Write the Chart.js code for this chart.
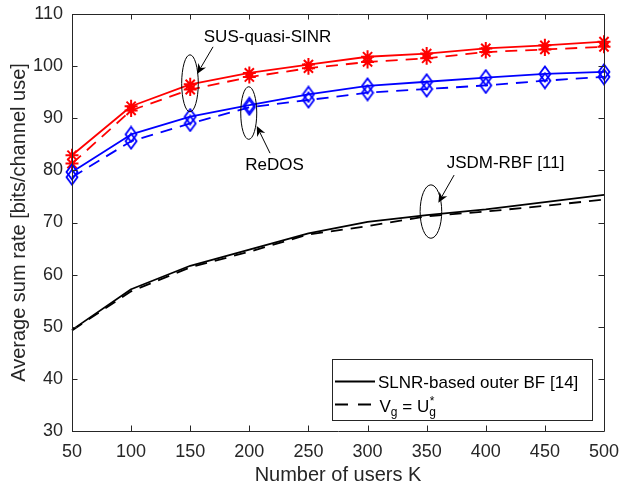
<!DOCTYPE html>
<html>
<head>
<meta charset="utf-8">
<script src="https://cdn.jsdelivr.net/npm/chart.js@4/dist/chart.umd.min.js"></script>
<style>
  html, body { margin: 0; padding: 0; background: #ffffff; }
  #wrap { width: 621px; height: 491px; }
</style>
</head>
<body>
<div id="wrap"><canvas id="c" width="621" height="491"></canvas></div>
<script>
// Number of users K
const users = [50, 100, 150, 200, 250, 300, 350, 400, 450, 500];

// Average sum rate [bits/channel use]
const susSlnr  = [82.9, 92.3, 96.5, 98.7, 100.3, 101.8, 102.4, 103.4, 104.0, 104.7];
const susVgUg  = [81.3, 91.5, 95.5, 97.9, 99.6, 100.8, 101.5, 102.7, 103.2, 103.7];
const redSlnr  = [79.7, 86.9, 90.3, 92.5, 94.6, 96.2, 97.0, 97.8, 98.5, 98.9];
const redVgUg  = [78.7, 85.6, 89.0, 92.1, 93.5, 94.9, 95.6, 96.3, 97.2, 97.95];
const jsdmSlnr = [49.4, 57.2, 61.7, 64.8, 67.9, 70.1, 71.4, 72.5, 73.9, 75.3];
const jsdmVgUg = [49.3, 56.8, 61.4, 64.4, 67.7, 69.3, 71.2, 72.1, 73.2, 74.4];

const xTicks = [50, 100, 150, 200, 250, 300, 350, 400, 450, 500];
const yTicks = [30, 40, 50, 60, 70, 80, 90, 100, 110];

const FONT = '"Liberation Sans", Arial, Helvetica, sans-serif';
const AXIS = '#262626';

const pts = ys => users.map((u, i) => ({ x: u, y: ys[i] }));

// open diamond marker, taller than wide
function diamond(color) {
  const c = document.createElement('canvas');
  c.width = 14; c.height = 18;
  const g = c.getContext('2d');
  g.strokeStyle = color; g.lineWidth = 1.8;
  g.beginPath();
  g.moveTo(7, 1.5); g.lineTo(12.5, 9); g.lineTo(7, 16.5); g.lineTo(1.5, 9); g.closePath();
  g.stroke();
  return c;
}
const blueDiamond = diamond('#0000ff');

const DASH = [12, 8];

const datasets = [
  { data: pts(jsdmSlnr), borderColor: '#000', borderWidth: 1.8, pointRadius: 0 },
  { data: pts(jsdmVgUg), borderColor: '#000', borderWidth: 1.8, pointRadius: 0, borderDash: DASH },
  { data: pts(redSlnr), borderColor: '#0000ff', borderWidth: 1.8, pointStyle: blueDiamond, pointRadius: 7 },
  { data: pts(redVgUg), borderColor: '#0000ff', borderWidth: 1.8, pointStyle: blueDiamond, pointRadius: 7, borderDash: DASH },
  { data: pts(susSlnr), borderColor: '#ff0000', borderWidth: 1.8, pointStyle: 'star', pointRadius: 6.5,
    pointBorderColor: '#ff0000', pointBorderWidth: 2 },
  { data: pts(susVgUg), borderColor: '#ff0000', borderWidth: 1.8, pointStyle: 'star', pointRadius: 6.5,
    pointBorderColor: '#ff0000', pointBorderWidth: 2, borderDash: DASH }
].map(d => Object.assign({ fill: false, tension: 0, clip: false, pointHoverRadius: 0 }, d));

// ellipse + arrow call-outs (data units for positions, pixels for radii)
const callouts = [
  { text: 'SUS-quasi-SINR', tx: 215.4, ty: 105.6, ex: 149.8, ey: 96.7, rx: 8.3, ry: 28.5,
    from: [169.3, 103.7], to: [155.8, 98.5] },
  { text: 'ReDOS', tx: 221.3, ty: 81.0, ex: 199.5, ey: 91.0, rx: 8, ry: 26.3,
    from: [217.5, 83.3], to: [206.3, 88.5] },
  { text: 'JSDM-RBF [11]', tx: 416.7, ty: 81.4, ex: 353.6, ey: 72.1, rx: 10.8, ry: 26.7,
    from: [373.2, 79.1], to: [359.9, 73.8] }
];

function arrow(ctx, x1, y1, x2, y2) {
  const a = Math.atan2(y2 - y1, x2 - x1);
  const L = 10, W = 4.5;
  ctx.beginPath(); ctx.moveTo(x1, y1); ctx.lineTo(x2 - L * 0.7 * Math.cos(a), y2 - L * 0.7 * Math.sin(a)); ctx.stroke();
  const bx = x2 - L * Math.cos(a), by = y2 - L * Math.sin(a);
  const nx = -Math.sin(a), ny = Math.cos(a);
  ctx.beginPath();
  ctx.moveTo(x2, y2);
  ctx.lineTo(bx + nx * W, by + ny * W);
  ctx.lineTo(x2 - L * 0.7 * Math.cos(a), y2 - L * 0.7 * Math.sin(a));
  ctx.lineTo(bx - nx * W, by - ny * W);
  ctx.closePath(); ctx.fill();
}

const calloutPlugin = {
  id: 'callouts',
  afterDatasetsDraw(chart) {
    const { ctx, scales: { x, y } } = chart;
    ctx.save();
    ctx.strokeStyle = '#000'; ctx.fillStyle = '#000'; ctx.lineWidth = 1;
    ctx.font = '17px ' + FONT; ctx.textAlign = 'center'; ctx.textBaseline = 'middle';
    for (const c of callouts) {
      ctx.beginPath();
      ctx.ellipse(x.getPixelForValue(c.ex), y.getPixelForValue(c.ey), c.rx, c.ry, 0, 0, Math.PI * 2);
      ctx.stroke();
      arrow(ctx, x.getPixelForValue(c.from[0]), y.getPixelForValue(c.from[1]),
                 x.getPixelForValue(c.to[0]), y.getPixelForValue(c.to[1]));
      ctx.fillText(c.text, x.getPixelForValue(c.tx), y.getPixelForValue(c.ty));
    }
    ctx.restore();
  }
};

// axes box with inward ticks on all four sides
const framePlugin = {
  id: 'frame',
  afterDraw(chart) {
    const { ctx, chartArea: a, scales: { x, y } } = chart;
    const T = 5.5;
    ctx.save();
    ctx.strokeStyle = AXIS; ctx.lineWidth = 1;
    ctx.beginPath();
    ctx.rect(Math.round(a.left) + 0.5, Math.round(a.top) + 0.5,
             Math.round(a.right - a.left), Math.round(a.bottom - a.top));
    for (const v of xTicks) {
      const px = Math.round(x.getPixelForValue(v)) + 0.5;
      ctx.moveTo(px, a.bottom); ctx.lineTo(px, a.bottom - T);
      ctx.moveTo(px, a.top); ctx.lineTo(px, a.top + T);
    }
    for (const v of yTicks) {
      const py = Math.round(y.getPixelForValue(v)) + 0.5;
      ctx.moveTo(a.left, py); ctx.lineTo(a.left + T, py);
      ctx.moveTo(a.right, py); ctx.lineTo(a.right - T, py);
    }
    ctx.stroke();
    ctx.restore();
  }
};

// legend box (bottom-right inside the axes)
const legendPlugin = {
  id: 'mlegend',
  afterDraw(chart) {
    const { ctx, chartArea: a } = chart;
    const right = a.right - 12.5, bottom = a.bottom - 11;
    const w = 260, h = 61;
    const left = right - w, top = bottom - h;
    ctx.save();
    ctx.fillStyle = '#fff'; ctx.fillRect(left, top, w, h);
    ctx.strokeStyle = AXIS; ctx.lineWidth = 1;
    ctx.strokeRect(Math.round(left) + 0.5, Math.round(top) + 0.5, w, h);

    ctx.strokeStyle = '#000'; ctx.lineWidth = 1.8;
    const y1 = top + 22.5, y2 = top + 45.5;
    ctx.beginPath(); ctx.moveTo(left + 3.5, y1); ctx.lineTo(left + 43.5, y1); ctx.stroke();
    ctx.setLineDash([13, 10]);
    ctx.beginPath(); ctx.moveTo(left + 3.5, y2); ctx.lineTo(left + 43.5, y2); ctx.stroke();
    ctx.setLineDash([]);

    ctx.fillStyle = '#000'; ctx.textBaseline = 'alphabetic'; ctx.textAlign = 'left';
    const tx = left + 46.5;
    ctx.font = '17px ' + FONT;
    ctx.fillText('SLNR-based outer BF [14]', tx, top + 28.5);
    const base = top + 52.5;
    let cx = tx + 1.5;
    const big = '17px ' + FONT, small = '12px ' + FONT;
    const put = (s, f, dy) => { ctx.font = f; ctx.fillText(s, cx, base + dy); cx += ctx.measureText(s).width; };
    put('V', big, 0);
    put('g', small, 4);
    put(' = U', big, 0);
    const gx = cx;
    put('g', small, 4);
    ctx.font = small; ctx.fillText('*', gx + 0.5, base - 6.5);
    ctx.restore();
  }
};

new Chart(document.getElementById('c'), {
  type: 'line',
  data: { datasets },
  options: {
    responsive: false,
    animation: false,
    devicePixelRatio: 1,
    layout: { padding: { top: 14, right: 17, left: 0, bottom: 0 } },
    plugins: { legend: { display: false }, tooltip: { enabled: false } },
    elements: { line: { borderCapStyle: 'butt', borderJoinStyle: 'round' } },
    scales: {
      x: {
        type: 'linear', min: 50, max: 500,
        afterBuildTicks: s => { s.ticks = xTicks.map(v => ({ value: v })); },
        afterFit: s => { s.height = 60; s.paddingLeft = 0; s.paddingRight = 0; },
        grid: { display: false, drawTicks: false },
        border: { display: false },
        ticks: { color: AXIS, font: { family: FONT, size: 18 }, padding: 10, maxRotation: 0, autoSkip: false },
        title: { display: true, text: 'Number of users K', color: AXIS,
                 font: { family: FONT, size: 20 }, padding: { top: 0, bottom: 4 } }
      },
      y: {
        type: 'linear', min: 30, max: 110,
        afterBuildTicks: s => { s.ticks = yTicks.map(v => ({ value: v })); },
        afterFit: s => { s.width = 72; s.paddingTop = 0; s.paddingBottom = 0; },
        grid: { display: false, drawTicks: false },
        border: { display: false },
        ticks: { color: AXIS, font: { family: FONT, size: 18 }, padding: 9, autoSkip: false },
        title: { display: true, text: 'Average sum rate [bits/channel use]', color: AXIS,
                 font: { family: FONT, size: 20 }, padding: { top: 7, bottom: 0 } }
      }
    }
  },
  plugins: [calloutPlugin, framePlugin, legendPlugin]
});
</script>
</body>
</html>
